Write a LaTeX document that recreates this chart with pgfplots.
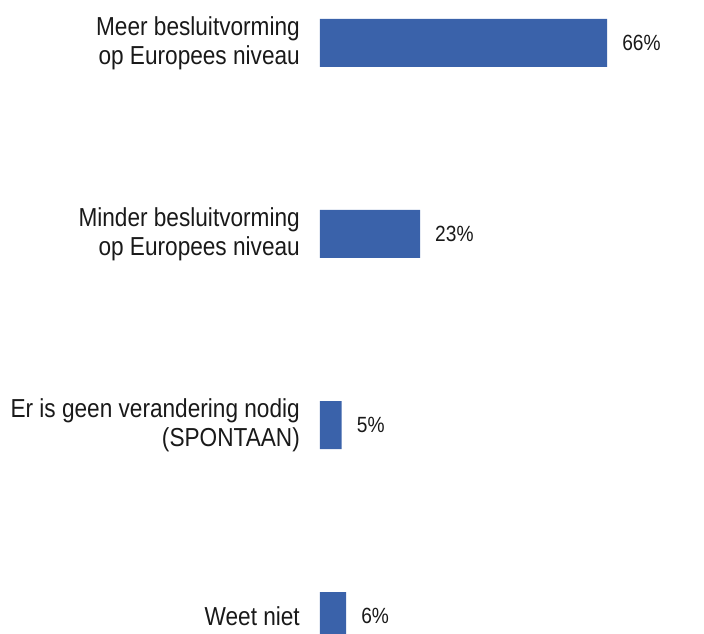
\documentclass[border=0pt]{standalone}
\usepackage{pgfplots}
\pgfplotsset{compat=1.18}
\usepackage{fontspec}
\setmainfont[FakeStretch=0.87]{Liberation Sans}
\definecolor{barblue}{RGB}{58,98,170}
\definecolor{txt}{RGB}{25,25,25}
\begin{document}
\begin{tikzpicture}
\begin{axis}[
  name=ax,
  xbar,
  scale only axis,
  width=384pt, height=634pt,
  xmin=0, xmax=88.28,
  ymin=-0.2251, ymax=3.0942,
  y dir=reverse,
  axis line style={draw=none},
  major tick length=0pt,
  xtick=\empty,
  ytick={0,1,2,3},
  yticklabels={{Meer besluitvorming\\op Europees niveau},{Minder besluitvorming\\op Europees niveau},{Er is geen verandering nodig\\(SPONTAAN)},{Weet niet}},
  yticklabel style={align=right, inner sep=0pt, xshift=-20pt, text=txt, font=\fontsize{26}{29}\selectfont},
  bar width=48pt,
  nodes near coords={\pgfmathprintnumber[assume math mode=true]{\pgfplotspointmeta}\%},
  every node near coord/.append style={anchor=west, inner sep=0pt, xshift=15pt, text=txt, font=\fontsize{22}{26}\selectfont},
]
\addplot[fill=barblue, draw=none] coordinates {(66,0) (23,1) (5,2) (6,3)};
\end{axis}
\pgfresetboundingbox
\path[use as bounding box] (ax.south west) ++(-320pt,0) rectangle (ax.north east);
\end{tikzpicture}
\end{document}
